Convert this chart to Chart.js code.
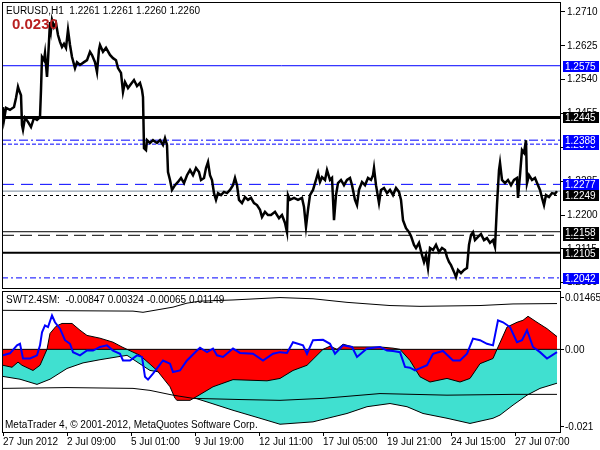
<!DOCTYPE html>
<html>
<head>
<meta charset="utf-8">
<script src="https://cdn.jsdelivr.net/npm/chart.js@4.4.0/dist/chart.umd.min.js"></script>
<style>
  html, body { margin: 0; padding: 0; background: #fff; }
  #wrap { position: relative; width: 600px; height: 450px; }
  #main { position: absolute; left: 0; top: 0; }
  #sub { position: absolute; left: 0; top: 290px; }
</style>
</head>
<body>
<div id="wrap">
  <canvas id="main" width="600" height="290"></canvas>
  <canvas id="sub" width="600" height="160"></canvas>
</div>
<script>
// ---- price (EURUSD H1), bar index and price ----
const priceBars = [
  0, 1, 3, 7, 11, 13, 15, 16, 18, 19, 20, 22, 25, 28, 31, 34, 37, 38, 39, 41,
  42, 44, 45, 47, 48, 49, 51, 53, 55, 57, 59, 61, 63, 65, 67, 69, 72, 74, 77, 81,
  84, 87, 89, 92, 94, 96, 97, 100, 103, 107, 110, 113, 115, 118, 120, 122, 125, 128, 131, 134,
  137, 139, 140, 141, 143, 144, 147, 150, 154, 157, 160, 162, 164, 165, 167, 169, 172, 175, 178, 181,
  184, 187, 190, 193, 196, 198, 201, 203, 205, 207, 209, 211, 213, 215, 218, 221, 224, 227, 230, 232,
  234, 236, 239, 242, 245, 248, 251, 254, 257, 259, 262, 265, 268, 272, 276, 279, 282, 284, 285, 287,
  291, 295, 299, 301, 303, 305, 307, 310, 313, 315, 317, 319, 322, 324, 327, 329, 331, 333, 335, 338,
  341, 344, 347, 349, 352, 354, 356, 359, 362, 365, 368, 370, 371, 373, 376, 378, 381, 384, 387, 390,
  393, 396, 398, 400, 403, 406, 408, 411, 413, 416, 419, 421, 423, 425, 427, 430, 433, 436, 439, 442,
  444, 446, 448, 451, 453, 455, 458, 461, 464, 466, 468, 470, 472, 475, 478, 481, 484, 487, 490, 492,
  494, 496, 497, 499, 502, 505, 508, 511, 514, 515, 517, 519, 521, 523, 524, 526, 529, 532, 535, 537,
  539, 541, 543, 546, 549, 552, 554
];
const priceValues = [
  1.2471, 1.2439, 1.2469, 1.2464, 1.2471, 1.2494, 1.2522, 1.2514, 1.2501, 1.2426, 1.2414, 1.2444, 1.2434, 1.2421, 1.2444, 1.2439, 1.2446, 1.2514, 1.2597, 1.2589,
  1.2607, 1.2547, 1.2589, 1.2685, 1.2665, 1.2690, 1.2672, 1.2682, 1.2652, 1.2635, 1.2622, 1.2630, 1.2620, 1.2665, 1.2627, 1.2597, 1.2569, 1.2584, 1.2577, 1.2584,
  1.2589, 1.2610, 1.2602, 1.2584, 1.2559, 1.2615, 1.2627, 1.2610, 1.2620, 1.2602, 1.2594, 1.2589, 1.2569, 1.2557, 1.2509, 1.2534, 1.2519, 1.2529, 1.2539, 1.2524,
  1.2532, 1.2514, 1.2496, 1.2368, 1.2363, 1.2388, 1.2381, 1.2388, 1.2381, 1.2388, 1.2376, 1.2393, 1.2376, 1.2308, 1.2288, 1.2263, 1.2275, 1.2283, 1.2293, 1.2280,
  1.2300, 1.2313, 1.2300, 1.2318, 1.2308, 1.2288, 1.2293, 1.2318, 1.2333, 1.2300, 1.2288, 1.2255, 1.2238, 1.2255, 1.2250, 1.2258, 1.2255, 1.2263, 1.2275, 1.2293,
  1.2275, 1.2238, 1.2230, 1.2245, 1.2238, 1.2243, 1.2230, 1.2225, 1.2213, 1.2195, 1.2208, 1.2200, 1.2200, 1.2208, 1.2192, 1.2200, 1.2180, 1.2157, 1.2250, 1.2238,
  1.2243, 1.2238, 1.2243, 1.2220, 1.2170, 1.2213, 1.2250, 1.2263, 1.2288, 1.2306, 1.2283, 1.2295, 1.2288, 1.2313, 1.2288, 1.2293, 1.2187, 1.2250, 1.2280, 1.2288,
  1.2275, 1.2288, 1.2293, 1.2275, 1.2238, 1.2225, 1.2263, 1.2283, 1.2275, 1.2293, 1.2288, 1.2300, 1.2318, 1.2275, 1.2230, 1.2263, 1.2268, 1.2255, 1.2263, 1.2250,
  1.2268, 1.2258, 1.2238, 1.2187, 1.2167, 1.2157, 1.2147, 1.2125, 1.2117, 1.2130, 1.2099, 1.2082, 1.2099, 1.2067, 1.2117, 1.2112, 1.2125, 1.2107, 1.2117, 1.2112,
  1.2094, 1.2082, 1.2074, 1.2057, 1.2044, 1.2062, 1.2054, 1.2062, 1.2067, 1.2125, 1.2150, 1.2157, 1.2137, 1.2145, 1.2152, 1.2137, 1.2142, 1.2130, 1.2137, 1.2120,
  1.2225, 1.2313, 1.2331, 1.2288, 1.2280, 1.2288, 1.2275, 1.2288, 1.2293, 1.2243, 1.2300, 1.2363, 1.2356, 1.2388, 1.2280, 1.2300, 1.2288, 1.2293, 1.2275, 1.2263,
  1.2243, 1.2225, 1.2250, 1.2245, 1.2255, 1.2253, 1.2260
];
const priceTicks = [1.2030, 1.2115, 1.2200, 1.2285, 1.2370, 1.2455, 1.2540, 1.2625, 1.2710];

// horizontal level lines and their price boxes
const levelValues = [1.2575, 1.2445, 1.2388, 1.2378, 1.2277, 1.2260, 1.2249, 1.2158, 1.2149, 1.2105, 1.2042];
const levelStyles = [
  { color: '#0000ff', width: 1, dash: [] },
  { color: '#000000', width: 3, dash: [] },
  { color: '#0000ff', width: 1, dash: [9, 3, 2, 3] },
  { color: '#0000ff', width: 1, dash: [4, 2] },
  { color: '#0000ff', width: 1, dash: [12, 7] },
  { color: '#778899', width: 1, dash: [] },
  { color: '#000000', width: 1, dash: [3, 3] },
  { color: '#000000', width: 1, dash: [] },
  { color: '#000000', width: 1, dash: [12, 6] },
  { color: '#000000', width: 2, dash: [] },
  { color: '#0000ff', width: 1, dash: [6, 3, 2, 3] }
];
const boxValues = [1.2575, 1.2445, 1.2378, 1.2388, 1.2277, 1.2249, 1.2149, 1.2158, 1.2105, 1.2042];
const boxColors = ['#0000ff', '#000000', '#0000ff', '#0000ff', '#0000ff', '#000000', '#000000', '#000000', '#000000', '#0000ff'];

// ---- SWT2.4SM indicator ----
const redBars = [0, 9, 15, 19, 30, 37, 44, 47, 53, 59, 69, 77, 84, 97, 110, 119, 124, 137, 154, 167,
  172, 174, 187, 194, 204, 210, 230, 264, 277, 290, 304, 320, 327, 334, 340, 350, 377, 390, 397, 407,
  417, 427, 444, 457, 467, 477, 490, 494, 504, 514, 520, 525, 534, 544, 554];
const redValues = [-0.0040, -0.0045, -0.0032, -0.0040, -0.0053, -0.0040, 0.0000, 0.0040, 0.0058, 0.0065,
  0.0065, 0.0048, 0.0035, 0.0028, 0.0018, 0.0006, 0.0000, -0.0015, -0.0053, -0.0094,
  -0.0123, -0.0128, -0.0128, -0.0118, -0.0103, -0.0094, -0.0076, -0.0079, -0.0073, -0.0053,
  -0.0040, 0.0000, 0.0008, 0.0000, 0.0013, 0.0006, 0.0006, 0.0003, 0.0000, -0.0028,
  -0.0069, -0.0082, -0.0073, -0.0082, -0.0073, -0.0036, -0.0023, 0.0000, 0.0056, 0.0068,
  0.0073, 0.0083, 0.0068, 0.0052, 0.0032];
const cyanBars = [0, 17, 34, 47, 64, 80, 97, 114, 124, 147, 157, 170, 184, 190, 204, 230, 257, 277, 310, 344,
  364, 387, 404, 420, 444, 467, 490, 497, 510, 524, 537, 554];
const cyanValues = [-0.0068, -0.0075, -0.0088, -0.0075, -0.0048, -0.0034, -0.0026, -0.0019, -0.0015, -0.0053,
  -0.0057, -0.0082, -0.0111, -0.0121, -0.0132, -0.0153, -0.0173, -0.0188, -0.0182, -0.0161,
  -0.0144, -0.0136, -0.0144, -0.0161, -0.0173, -0.0186, -0.0173, -0.0165, -0.0140, -0.0115,
  -0.0098, -0.0085];
const blueBars = [0, 7, 14, 17, 20, 27, 34, 37, 39, 42, 45, 49, 52, 57, 62, 67, 70, 77, 84, 90,
  97, 104, 110, 117, 120, 127, 134, 139, 142, 145, 150, 160, 167, 170, 177, 184, 194, 197, 204, 210,
  214, 220, 230, 237, 250, 260, 270, 277, 284, 290, 300, 304, 310, 320, 327, 332, 340, 349, 354, 364,
  377, 384, 390, 397, 402, 407, 412, 424, 430, 440, 450, 457, 464, 470, 477, 484, 490, 495, 500, 507,
  514, 519, 524, 530, 537, 544, 554];
const blueValues = [-0.0015, -0.0010, 0.0010, 0.0014, -0.0023, -0.0023, -0.0015, 0.0010, 0.0043, 0.0060,
  0.0056, 0.0085, 0.0068, 0.0052, 0.0023, 0.0014, -0.0007, -0.0015, -0.0003, -0.0003,
  0.0006, 0.0010, -0.0003, -0.0011, -0.0028, -0.0028, -0.0015, -0.0019, -0.0069, -0.0076,
  -0.0061, -0.0028, -0.0036, -0.0057, -0.0053, -0.0028, -0.0003, 0.0004, -0.0007, 0.0002,
  -0.0015, -0.0019, 0.0002, -0.0009, -0.0011, -0.0028, -0.0011, -0.0007, -0.0009, 0.0018,
  0.0010, -0.0011, 0.0023, 0.0024, 0.0014, -0.0011, 0.0010, 0.0006, -0.0019, 0.0002,
  0.0006, -0.0003, -0.0004, -0.0007, -0.0044, -0.0046, -0.0053, -0.0040, -0.0011, -0.0004,
  -0.0028, -0.0028, -0.0011, 0.0027, 0.0023, 0.0014, 0.0010, 0.0073, 0.0068, 0.0056,
  0.0018, 0.0023, 0.0048, 0.0006, -0.0007, -0.0023, -0.0007];
const upperBars = [0, 130, 140, 170, 184, 197, 230, 277, 310, 344, 387, 417, 477, 510, 554];
const upperValues = [0.0098, 0.0096, 0.0093, 0.0106, 0.0116, 0.0121, 0.0124, 0.0130, 0.0127, 0.0118,
  0.0110, 0.0108, 0.0110, 0.0114, 0.0115];
const lowerBars = [0, 64, 130, 147, 170, 190, 237, 277, 320, 344, 377, 444, 510, 554];
const lowerValues = [-0.0098, -0.0096, -0.0098, -0.0103, -0.0115, -0.0123, -0.0126, -0.0128, -0.0123, -0.0118,
  -0.0111, -0.0115, -0.0113, -0.0113];
const subMax = 0.01465;
const subMin = -0.021;

// time axis
const dateBars = [0, 64, 128, 192, 256, 320, 384, 448, 512];
const dateLabels = ['27 Jun 2012', '2 Jul 09:00', '5 Jul 01:00', '9 Jul 19:00', '12 Jul 11:00',
  '17 Jul 05:00', '19 Jul 21:00', '24 Jul 15:00', '27 Jul 07:00'];

const FONT = '"Liberation Sans", Arial, sans-serif';
Chart.defaults.font.family = FONT;
Chart.defaults.font.size = 10;
Chart.defaults.color = '#000';

const pts = (xs, ys) => xs.map((x, i) => ({ x: x, y: ys[i] }));
const X_MIN = -1, X_MAX = 558;
const flat = v => [{ x: X_MIN, y: v }, { x: X_MAX, y: v }];

// draws the black frame around a plot area
const frame = {
  id: 'frame',
  afterDraw(chart) {
    const { ctx, chartArea: a } = chart;
    ctx.save();
    ctx.strokeStyle = '#000';
    ctx.lineWidth = 1;
    ctx.strokeRect(Math.round(a.left) + 0.5, Math.round(a.top) + 0.5,
      Math.round(a.right - a.left) - 1, Math.round(a.bottom - a.top) - 1);
    ctx.restore();
  }
};

const priceBoxes = {
  id: 'priceBoxes',
  afterDraw(chart) {
    const ctx = chart.ctx, y = chart.scales.y;
    ctx.save();
    ctx.font = '10px ' + FONT;
    ctx.textBaseline = 'middle';
    boxValues.forEach((v, i) => {
      const py = Math.round(y.getPixelForValue(v));
      ctx.fillStyle = boxColors[i];
      ctx.fillRect(563, py - 5, 36, 11);
      ctx.fillStyle = '#fff';
      ctx.fillText(v.toFixed(4), 565, py + 1);
    });
    ctx.fillStyle = '#000';
    ctx.fillText('EURUSD,H1  1.2261 1.2261 1.2260 1.2260', 6, 11);
    ctx.font = 'bold 15px ' + FONT;
    ctx.fillStyle = '#b82020';
    ctx.fillText('0.0230', 12, 24.5);
    ctx.restore();
  }
};

const subLabels = {
  id: 'subLabels',
  afterDraw(chart) {
    const ctx = chart.ctx, y = chart.scales.y;
    const marks = [
      [subMax.toFixed(5), y.getPixelForValue(subMax) + 6],
      ['0.00', y.getPixelForValue(0)],
      [subMin.toFixed(3), y.getPixelForValue(subMin) - 7]
    ];
    ctx.save();
    ctx.font = '10px ' + FONT;
    ctx.textBaseline = 'middle';
    ctx.fillStyle = '#000';
    ctx.strokeStyle = '#000';
    ctx.lineWidth = 1;
    marks.forEach(([t, py]) => {
      const r = Math.round(py) + 0.5;
      ctx.beginPath();
      ctx.moveTo(561, r);
      ctx.lineTo(564, r);
      ctx.stroke();
      ctx.fillText(t, 565, r + 0.5);
    });
    ctx.fillText('SWT2.4SM:  -0.00847 0.00324 -0.00065 0.01149', 6, 10.5);
    ctx.fillText('MetaTrader 4, \u00a9 2001-2012, MetaQuotes Software Corp.', 5, 135);
    ctx.restore();
  }
};

const common = {
  responsive: false,
  animation: false,
  devicePixelRatio: 1,
  events: [],
  plugins: { legend: { display: false }, tooltip: { enabled: false } },
  elements: { point: { radius: 0 }, line: { tension: 0 } }
};

// ---- main price chart ----
const levelSets = levelValues.map((v, i) => ({
  data: flat(v),
  borderColor: levelStyles[i].color,
  borderWidth: levelStyles[i].width,
  borderDash: levelStyles[i].dash,
  order: 2
}));

new Chart(document.getElementById('main'), {
  type: 'line',
  data: {
    datasets: [
      ...levelSets,
      { data: pts(priceBars, priceValues), borderColor: '#000', borderWidth: 2.5, order: 0 }
    ]
  },
  options: {
    ...common,
    layout: { padding: { left: 2, top: 2, right: 0, bottom: 1 } },
    scales: {
      x: { type: 'linear', min: X_MIN, max: X_MAX, display: false },
      y: {
        position: 'right',
        min: 1.20141,
        max: 1.27351,
        afterBuildTicks: s => { s.ticks = priceTicks.map(v => ({ value: v })); },
        afterFit: s => { s.width = 39; s.paddingTop = 0; s.paddingBottom = 0; },
        ticks: { padding: 2, autoSkip: false, callback: v => v.toFixed(4) },
        grid: { drawOnChartArea: false, tickLength: 4, color: '#000' },
        border: { display: false }
      }
    }
  },
  plugins: [frame, priceBoxes]
});

// ---- indicator chart ----
new Chart(document.getElementById('sub'), {
  type: 'line',
  data: {
    datasets: [
      { data: pts(cyanBars, cyanValues), fill: 'origin', backgroundColor: '#40e0d0', borderColor: '#000', borderWidth: 1, order: 6 },
      { data: pts(redBars, redValues), fill: 'origin', backgroundColor: '#ff0000', borderColor: '#000', borderWidth: 1, order: 5 },
      { data: flat(0), borderColor: '#000', borderWidth: 1, order: 4 },
      { data: pts(upperBars, upperValues), borderColor: '#000', borderWidth: 1, order: 3 },
      { data: pts(lowerBars, lowerValues), borderColor: '#000', borderWidth: 1, order: 3 },
      { data: pts(blueBars, blueValues), borderColor: '#0000ff', borderWidth: 2, order: 1 }
    ]
  },
  options: {
    ...common,
    layout: { padding: { left: 2, top: 1, right: 0, bottom: 0 } },
    scales: {
      x: {
        type: 'linear', min: X_MIN, max: X_MAX,
        afterBuildTicks: s => { s.ticks = dateBars.map(v => ({ value: v })); },
        afterFit: s => { s.height = 17; s.paddingLeft = 0; s.paddingRight = 0; },
        ticks: {
          align: 'start', padding: 0, maxRotation: 0, autoSkip: false,
          callback: (v, i) => dateLabels[i]
        },
        grid: { drawOnChartArea: false, tickLength: 3, color: '#000' },
        border: { display: false }
      },
      y: {
        position: 'right', min: subMin, max: subMax,
        afterFit: s => { s.width = 39; s.paddingTop = 0; s.paddingBottom = 0; },
        ticks: { display: false },
        grid: { display: false },
        border: { display: false }
      }
    }
  },
  plugins: [frame, subLabels]
});
</script>
</body>
</html>
